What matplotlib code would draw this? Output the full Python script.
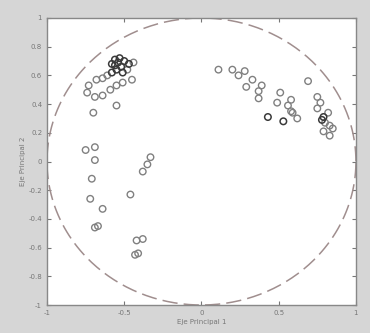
import numpy as np
import matplotlib.pyplot as plt

# coordinates on the two principal axes
x_light = [-0.73, -0.68, -0.64, -0.61, -0.74, -0.69, -0.64, -0.59, -0.55, -0.51,
           -0.45, -0.44, -0.48, -0.55, -0.70, -0.75, -0.69, -0.69, -0.71, -0.72,
           -0.64, -0.69, -0.67, -0.46, -0.42, -0.38, -0.43, -0.41, -0.38, -0.35,
           -0.33, 0.11, 0.20, 0.24, 0.28, 0.33, 0.29, 0.39, 0.37, 0.37, 0.51,
           0.49, 0.58, 0.56, 0.58, 0.62, 0.59, 0.69, 0.75, 0.77, 0.75, 0.82,
           0.80, 0.83, 0.79, 0.83, 0.85]
y_light = [0.53, 0.57, 0.58, 0.60, 0.48, 0.45, 0.46, 0.50, 0.53, 0.55,
           0.57, 0.69, 0.64, 0.39, 0.34, 0.08, 0.10, 0.01, -0.12, -0.26,
           -0.33, -0.46, -0.45, -0.23, -0.55, -0.54, -0.65, -0.64, -0.07, -0.02,
           0.03, 0.64, 0.64, 0.60, 0.63, 0.57, 0.52, 0.53, 0.49, 0.44, 0.48,
           0.41, 0.43, 0.39, 0.35, 0.30, 0.34, 0.56, 0.45, 0.41, 0.37, 0.34,
           0.27, 0.25, 0.21, 0.18, 0.23]
x_dark = [-0.58, -0.56, -0.54, -0.52, -0.55, -0.58, -0.50, -0.47, -0.53, -0.56,
          -0.51, 0.43, 0.53, 0.78, 0.79]
y_dark = [0.68, 0.71, 0.69, 0.66, 0.64, 0.62, 0.70, 0.68, 0.72, 0.67,
          0.62, 0.31, 0.28, 0.29, 0.31]

fig = plt.figure(figsize=(3.7, 3.33), dpi=100, facecolor='#d6d6d6')
ax = fig.add_axes([0.127, 0.084, 0.835, 0.862])

t = np.linspace(0, 2 * np.pi, 400)
ax.plot(np.cos(t), np.sin(t), color='#a08e8e', lw=1.1, dashes=(10, 4))

ax.scatter(x_light, y_light, s=22, facecolors='none', edgecolors='#808080', linewidths=1.0, zorder=3)
ax.scatter(x_dark, y_dark, s=22, facecolors='none', edgecolors='#3a3a3a', linewidths=1.1, zorder=3)

ax.set_xlim(-1, 1)
ax.set_ylim(-1, 1)
ax.set_xticks([-1, -0.5, 0, 0.5, 1])
ax.set_xticklabels(['-1', '-0.5', '0', '0.5', '1'])
ax.set_yticks(np.round(np.arange(-1, 1.01, 0.2), 1))
ax.set_yticklabels(['-1', '-0.8', '-0.6', '-0.4', '-0.2', '0', '0.2', '0.4', '0.6', '0.8', '1'])
ax.tick_params(direction='in', length=3, labelsize=5, colors='#777777', top=True, right=True,
               labeltop=False, labelright=False)
for s in ax.spines.values():
    s.set_color('#888888')
    s.set_linewidth(1.0)
ax.set_xlabel('Eje Principal 1', fontsize=5, color='#777777', labelpad=2)
ax.set_ylabel('Eje Principal 2', fontsize=5, color='#777777', labelpad=2)

fig.savefig('out.png', dpi=100, facecolor=fig.get_facecolor())
